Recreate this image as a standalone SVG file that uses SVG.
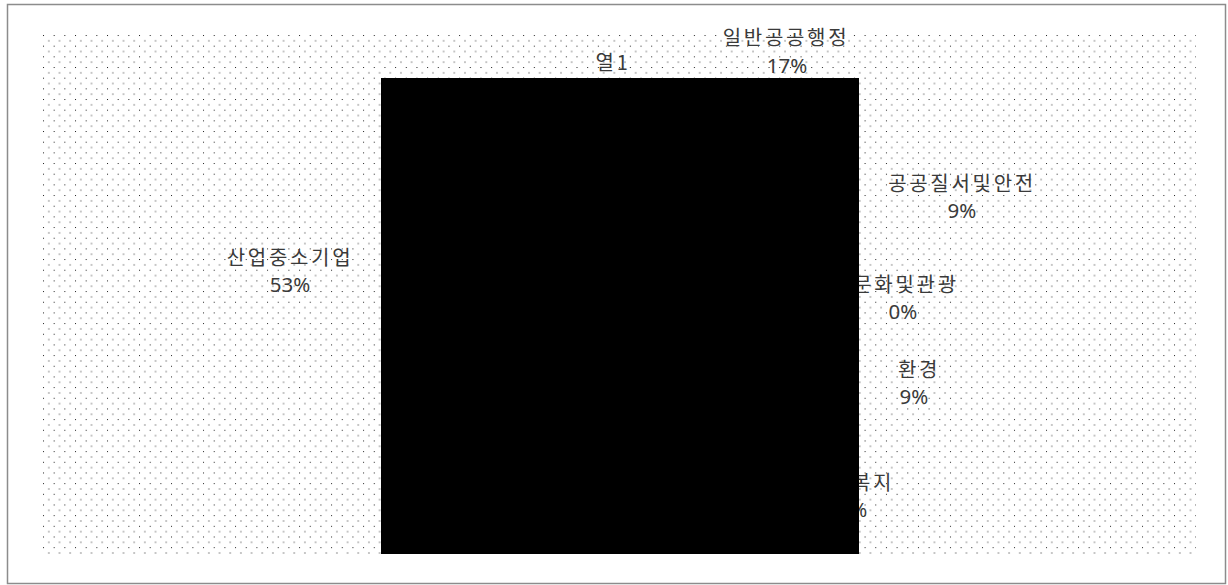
<svg xmlns="http://www.w3.org/2000/svg" width="1228" height="585" viewBox="0 0 1228 585">
<style>
.k{font-family:"Noto Sans CJK KR","Noto Sans",sans-serif;font-size:20px;fill:#3a3a3a;text-anchor:middle;letter-spacing:2.7px}
.n{font-family:"Noto Sans","Noto Sans CJK KR",sans-serif;font-size:20.5px;fill:#3a3a3a;text-anchor:middle}
</style>
<defs>
<pattern id="dots" x="43" y="35" width="10.67" height="10.67" patternUnits="userSpaceOnUse">
<rect x="0" y="0" width="1" height="1" fill="#222"/>
<rect x="5.33" y="5.33" width="1" height="1" fill="#222"/>
</pattern>
</defs>
<rect x="0" y="0" width="1228" height="585" fill="#fff"/>
<rect x="7.5" y="4.5" width="1218" height="579" fill="#fff" stroke="#8c8c8c" stroke-width="1.5"/>
<rect id="plot" x="43" y="34" width="1153" height="521" fill="url(#dots)"/>
<g id="title"><text class="k" x="613" y="70">열1</text></g>
<g id="label-general"><text class="k" x="786" y="45">일반공공행정</text><text class="n" x="787" y="73">17%</text></g>
<g id="label-safety"><text class="k" x="962" y="191">공공질서및안전</text><text class="n" x="962" y="218">9%</text></g>
<g id="label-industry"><text class="k" x="290" y="265">산업중소기업</text><text class="n" x="290" y="292">53%</text></g>
<g id="label-culture"><text class="k" x="906" y="292">문화및관광</text><text class="n" x="903" y="319">0%</text></g>
<g id="label-env"><text class="k" x="919" y="377">환경</text><text class="n" x="914" y="404">9%</text></g>
<g id="label-welfare"><text class="k" x="852" y="490">사회복지</text><text class="n" x="847" y="517">12%</text></g>
<g id="connectors"></g>
<rect id="pie" x="381" y="78" width="478" height="476" fill="#000"/>
</svg>
